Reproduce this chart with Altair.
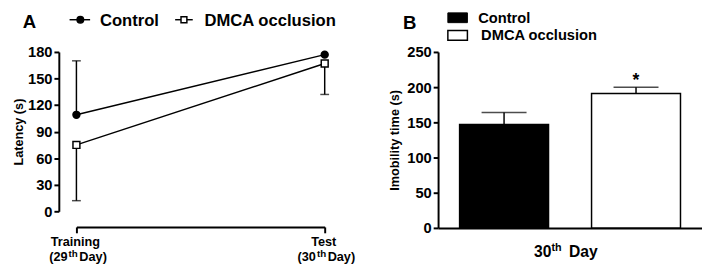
import altair as alt
import pandas as pd

# ---------------- data ----------------
days = ["Training", "Test"]
day_nums = ["29", "30"]
groups = ["Control", "DMCA occlusion"]

latency_control = [109, 177]
latency_dmca = [75, 167]
latency_control_err = [170, 177]   # end of the drawn (one-sided) SD bar
latency_dmca_err = [12, 132]

imob_mean = [147, 191]
imob_err = [164, 200]
imob_sig = ["", "*"]

y_ticks_a = [0, 30, 60, 90, 120, 150, 180]
y_ticks_b = [0, 50, 100, 150, 200, 250]

FONT = "Liberation Sans"

dfA = pd.DataFrame({
    "day": days * 2,
    "group": [groups[0]] * 2 + [groups[1]] * 2,
    "latency": latency_control + latency_dmca,
    "err": latency_control_err + latency_dmca_err,
})
dayDF = pd.DataFrame({"day": days, "num": day_nums})
dfB = pd.DataFrame({"group": groups, "mean": imob_mean, "err": imob_err, "sig": imob_sig})
legDF = pd.DataFrame({"label": groups})

fill_scale = alt.Scale(domain=groups, range=["black", "white"])
shape_scale = alt.Scale(domain=groups, range=["circle", "square"])

# ---------------- panel A ----------------
xA = alt.X("day:N", sort=days, scale=alt.Scale(type="point", padding=0),
           axis=alt.Axis(title=None, labels=False, domainColor="black", domainWidth=2,
                         tickColor="black", tickWidth=2, tickSize=6, offset=16, grid=False))


def yA(field):
    return alt.Y(field, scale=alt.Scale(domain=[0, 180], nice=False),
                 axis=alt.Axis(values=y_ticks_a, title="Latency (s)", offset=18, grid=False,
                               domainColor="black", domainWidth=2, tickColor="black",
                               tickWidth=2, tickSize=5, labelPadding=2, titlePadding=2))


baseA = alt.Chart(dfA)
errA = baseA.mark_rule(color="black", strokeWidth=1.5).encode(
    x=xA, y=yA("err:Q"), y2="latency:Q").transform_filter("datum.err != datum.latency")
capA = baseA.mark_tick(color="black", thickness=1.5, size=9).encode(
    x=xA, y=yA("err:Q")).transform_filter("datum.err != datum.latency")
lineA = baseA.mark_line(color="black", strokeWidth=1.5).encode(
    x=xA, y=yA("latency:Q"), detail="group:N")
ptsA = baseA.mark_point(stroke="black", strokeWidth=1.5, opacity=1, fillOpacity=1).encode(
    x=xA, y=yA("latency:Q"),
    shape=alt.Shape("group:N", scale=shape_scale, legend=None),
    fill=alt.Fill("group:N", scale=fill_scale, legend=None),
    size=alt.Size("group:N", scale=alt.Scale(domain=groups, range=[50, 50]), legend=None))

# x tick labels (two lines with superscript)
baseD = alt.Chart(dayDF)
lab1 = baseD.mark_text(fontSize=13, fontWeight="bold", font=FONT, align="center",
                       baseline="alphabetic", dx=-1).encode(
    x=xA, y=alt.value(199), text="day:N")
lab2a = baseD.transform_calculate(t="'(' + datum.num").mark_text(
    fontSize=13, fontWeight="bold", font=FONT, align="right", baseline="alphabetic", dx=-9).encode(
    x=xA, y=alt.value(214), text="t:N")
lab2b = baseD.mark_text(fontSize=10, fontWeight="bold", font=FONT, align="left",
                        baseline="alphabetic", dx=-8).encode(
    x=xA, y=alt.value(210), text=alt.value("th"))
lab2c = baseD.mark_text(fontSize=13, fontWeight="bold", font=FONT, align="left",
                        baseline="alphabetic", dx=3).encode(
    x=xA, y=alt.value(214), text=alt.value("Day)"))

# legend A
legC = alt.Chart(legDF).transform_filter(alt.datum.label == groups[0])
legD = alt.Chart(legDF).transform_filter(alt.datum.label == groups[1])
lA1 = legC.mark_rule(color="black", strokeWidth=1.5).encode(
    x=alt.value(-7), x2=alt.value(14), y=alt.value(-33))
lA2 = legC.mark_point(shape="circle", fill="black", stroke="black", strokeWidth=1.5,
                      opacity=1, size=45).encode(x=alt.value(4), y=alt.value(-33))
lA3 = legC.mark_text(fontSize=17, fontWeight="bold", font=FONT, align="left",
                     baseline="alphabetic").encode(x=alt.value(24), y=alt.value(-27), text="label:N")
lA4 = legD.mark_rule(color="black", strokeWidth=1.5).encode(
    x=alt.value(101), x2=alt.value(119), y=alt.value(-33))
lA5 = legD.mark_point(shape="square", fill="white", stroke="black", strokeWidth=1.5,
                      opacity=1, fillOpacity=1, size=36).encode(x=alt.value(110), y=alt.value(-33))
lA6 = legD.mark_text(fontSize=17, fontWeight="bold", font=FONT, align="left",
                     baseline="alphabetic").encode(x=alt.value(131), y=alt.value(-27), text="label:N")
letterA = legC.mark_text(fontSize=19, fontWeight="bold", font=FONT, align="left",
                         baseline="alphabetic").encode(x=alt.value(-55), y=alt.value(-25),
                                                       text=alt.value("A"))

panelA = alt.layer(errA, capA, lineA, ptsA, lab1, lab2a, lab2b, lab2c,
                   lA1, lA2, lA3, lA4, lA5, lA6, letterA).properties(width=254, height=163)

# ---------------- panel B ----------------
xB = alt.X("group:N", sort=groups,
           scale=alt.Scale(type="band", paddingInner=0.326, paddingOuter=0.163),
           axis=alt.Axis(title=None, labels=False, ticks=False, domainColor="black",
                         domainWidth=2, grid=False))


def yB(field):
    return alt.Y(field, scale=alt.Scale(domain=[0, 250], nice=False),
                 axis=alt.Axis(values=y_ticks_b, title="Imobility time (s)", grid=False,
                               domainColor="black", domainWidth=2, tickColor="black",
                               tickWidth=2, tickSize=5, labelPadding=2, titlePadding=5))


baseB = alt.Chart(dfB)
errB = baseB.mark_rule(color="black", strokeWidth=1.5).encode(x=xB, y=yB("err:Q"), y2="mean:Q")
capB = baseB.mark_tick(color="black", thickness=1.5, size=46).encode(x=xB, y=yB("err:Q"))
bars = baseB.mark_bar(stroke="black", strokeWidth=1.5).encode(
    x=xB, y=yB("mean:Q"), fill=alt.Fill("group:N", scale=fill_scale, legend=None))
star = baseB.mark_text(fontSize=18, fontWeight="bold", font=FONT, baseline="alphabetic",
                       dy=-1).encode(x=xB, y=yB("err:Q"), text="sig:N")

# x title "30th Day"
t1 = legC.mark_text(fontSize=16, fontWeight="bold", font=FONT, align="right",
                    baseline="alphabetic").encode(x=alt.value(116), y=alt.value(210),
                                                  text=alt.value("30"))
t2 = legC.mark_text(fontSize=11, fontWeight="bold", font=FONT, align="left",
                    baseline="alphabetic").encode(x=alt.value(116), y=alt.value(204),
                                                  text=alt.value("th"))
t3 = legC.mark_text(fontSize=16, fontWeight="bold", font=FONT, align="left",
                    baseline="alphabetic").encode(x=alt.value(134), y=alt.value(210),
                                                  text=alt.value("Day"))

# legend B
lB1 = legC.mark_rect(fill="black", stroke="black", strokeWidth=1).encode(
    x=alt.value(10), x2=alt.value(30), y=alt.value(-40), y2=alt.value(-30))
lB2 = legC.mark_text(fontSize=15, fontWeight="bold", font=FONT, align="left",
                     baseline="alphabetic").encode(x=alt.value(41), y=alt.value(-30), text="label:N")
lB3 = legD.mark_rect(fill="white", stroke="black", strokeWidth=1.5).encode(
    x=alt.value(10), x2=alt.value(30), y=alt.value(-22), y2=alt.value(-12))
lB4 = legD.mark_text(fontSize=15, fontWeight="bold", font=FONT, align="left",
                     baseline="alphabetic").encode(x=alt.value(44), y=alt.value(-12), text="label:N")
letterB = legC.mark_text(fontSize=19, fontWeight="bold", font=FONT, align="left",
                         baseline="alphabetic").encode(x=alt.value(-36), y=alt.value(-24),
                                                       text=alt.value("B"))

panelB = alt.layer(errB, capB, bars, star, t1, t2, t3,
                   lB1, lB2, lB3, lB4, letterB).properties(width=270, height=180)

chart = alt.hconcat(panelA, panelB, spacing=116, bounds="flush").properties(
    padding={"left": 4, "top": 0, "right": 0, "bottom": 0},
).configure_view(stroke=None).configure_axis(
    labelFont=FONT, labelFontSize=15, labelFontWeight="bold", labelColor="black",
    titleFont=FONT, titleFontSize=13, titleFontWeight="bold", titleColor="black",
).configure_text(font=FONT)

chart.save("out.html", embed_options={"renderer": "svg", "actions": False})
